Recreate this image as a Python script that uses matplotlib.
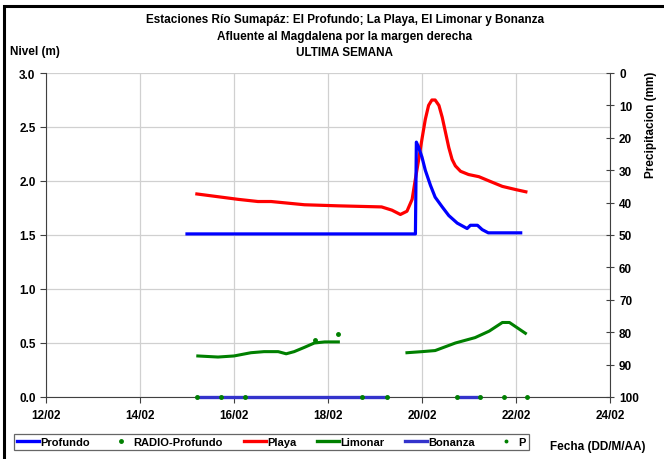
import numpy as np
import matplotlib.pyplot as plt
from matplotlib.lines import Line2D
from matplotlib.patches import Rectangle

plt.rcParams['font.family'] = ['Liberation Sans', 'DejaVu Sans']
plt.rcParams['font.weight'] = 'bold'

# days of February 2024 (fractional)
prof_t = [15.0, 19.86, 19.88, 19.93, 20.0, 20.07, 20.18, 20.28, 20.43, 20.57,
          20.75, 20.96, 21.03, 21.18, 21.28, 21.41, 22.10]
prof_v = [1.51, 1.51, 2.36, 2.31, 2.22, 2.10, 1.96, 1.85, 1.76, 1.68,
          1.61, 1.56, 1.59, 1.59, 1.55, 1.52, 1.52]

playa_t = [15.21, 16.09, 16.51, 16.79, 17.50, 18.22, 19.14, 19.36, 19.54, 19.68,
           19.79, 19.86, 19.93, 20.0, 20.07, 20.14, 20.21, 20.28, 20.36, 20.43,
           20.50, 20.57, 20.64, 20.71, 20.82, 20.99, 21.21, 21.43, 21.71, 22.0,
           22.21]
playa_v = [1.88, 1.83, 1.81, 1.81, 1.78, 1.77, 1.76, 1.73, 1.69, 1.72,
           1.83, 2.02, 2.20, 2.39, 2.57, 2.70, 2.75, 2.75, 2.70, 2.59,
           2.45, 2.31, 2.20, 2.14, 2.09, 2.06, 2.04, 2.00, 1.95, 1.92,
           1.90]

limon_t1 = [15.23, 15.66, 16.0, 16.36, 16.64, 16.94, 17.11, 17.28, 17.50, 17.71,
            17.93, 18.22]
limon_v1 = [0.38, 0.37, 0.38, 0.41, 0.42, 0.42, 0.40, 0.42, 0.46, 0.50,
            0.51, 0.51]
limon_t2 = [19.68, 20.0, 20.28, 20.71, 21.13, 21.43, 21.71, 21.86, 22.20]
limon_v2 = [0.41, 0.42, 0.43, 0.50, 0.55, 0.61, 0.69, 0.69, 0.59]

radio_t = [17.72, 18.22]
radio_v = [0.53, 0.58]

bon_t1 = [15.22, 19.25]
bon_t2 = [20.74, 21.24]

p_t = [15.22, 15.73, 16.23, 18.73, 19.25, 20.74, 21.24, 21.74, 22.24]
p_v = [0, 0, 0, 0, 0, 0, 0, 0, 0]

x_ticks = [12, 14, 16, 18, 20, 22, 24]
x_labels = ['12/02', '14/02', '16/02', '18/02', '20/02', '22/02', '24/02']
y_ticks = [0.0, 0.5, 1.0, 1.5, 2.0, 2.5, 3.0]
p_ticks = list(range(0, 101, 10))

fig = plt.figure(figsize=(6.64, 4.6), dpi=100)
ax = fig.add_axes([46 / 664, 1 - 398 / 460, 564 / 664, 324 / 460])

ax.plot(prof_t, prof_v, color='#0000FF', lw=2.3, zorder=5)
ax.plot(playa_t, playa_v, color='#FF0000', lw=2.3, zorder=4)
ax.plot(limon_t1, limon_v1, color='#008000', lw=2.2, zorder=4)
ax.plot(limon_t2, limon_v2, color='#008000', lw=2.2, zorder=4)
ax.plot(radio_t, radio_v, 'o', color='#008000', ms=2.5, zorder=6)
ax.plot(bon_t1, [0, 0], color='#3333CC', lw=2.4, zorder=5, clip_on=False)
ax.plot(bon_t2, [0, 0], color='#3333CC', lw=2.4, zorder=5, clip_on=False)
ax.plot(p_t, p_v, 'o', color='#008000', ms=2.5, zorder=6, clip_on=False)

ax.set_xlim(12, 24)
ax.set_ylim(0, 3.0)
ax.set_xticks(x_ticks)
ax.set_xticklabels(x_labels)
ax.set_yticks(y_ticks)
ax.set_yticklabels(['%.1f' % v for v in y_ticks])
ax.grid(True, color='#d0d0d0', lw=0.9)
ax.set_axisbelow(True)
ax.tick_params(axis='both', labelsize=8.5, length=4, color='#404040')
ax.tick_params(axis='x', pad=5)
for s in ['top', 'right']:
    ax.spines[s].set_visible(False)
ax.spines['left'].set_color('#404040')
ax.spines['bottom'].set_color('#404040')

ax2 = ax.twinx()
ax2.set_ylim(100, 0)
ax2.set_yticks(p_ticks)
ax2.tick_params(axis='y', labelsize=8.5, length=6, direction='inout', color='#404040')
for s in ['top', 'left', 'bottom']:
    ax2.spines[s].set_visible(False)
ax2.spines['right'].set_color('#404040')

fig.text(345 / 664, 1 - 20 / 460, 'Estaciones Río Sumapáz: El Profundo; La Playa, El Limonar y Bonanza',
         ha='center', va='center', fontsize=8.5)
fig.text(345 / 664, 1 - 37 / 460, 'Afluente al Magdalena por la margen derecha',
         ha='center', va='center', fontsize=8.5)
fig.text(345 / 664, 1 - 53 / 460, 'ULTIMA SEMANA', ha='center', va='center', fontsize=8.5)
fig.text(10 / 664, 1 - 52 / 460, 'Nivel (m)', ha='left', va='center', fontsize=8.5)
fig.text(651 / 664, 1 - 125 / 460, 'Precipitacion (mm)', ha='center', va='center',
         rotation=90, fontsize=8.5)
fig.text(598 / 664, 1 - 447 / 460, 'Fecha (DD/M/AA)', ha='center', va='center', fontsize=8.5)

handles = [
    Line2D([], [], color='#0000FF', lw=2.4),
    Line2D([], [], color='#008000', marker='o', ms=2.5, ls='none'),
    Line2D([], [], color='#FF0000', lw=2.4),
    Line2D([], [], color='#008000', lw=2.4),
    Line2D([], [], color='#3333CC', lw=2.4),
    Line2D([], [], color='#008000', marker='o', ms=1.8, ls='none'),
]
labels = ['Profundo', 'RADIO-Profundo', 'Playa', 'Limonar', 'Bonanza', 'P']
leg = fig.legend(handles, labels, ncol=6, loc='lower left',
                 bbox_to_anchor=(14 / 664, 1 - 451 / 460), fontsize=8,
                 frameon=True, fancybox=False, edgecolor='#404040',
                 handlelength=2.0, handletextpad=0.1, columnspacing=1.85,
                 borderpad=0.25, borderaxespad=0)
leg.get_frame().set_linewidth(0.9)

fig.patches.append(Rectangle((4 / 664, -0.01), 1.0, 1 - 7 / 460 + 0.01,
                             transform=fig.transFigure, fill=False,
                             edgecolor='black', lw=2.2))

fig.savefig('out.png', dpi=100)
